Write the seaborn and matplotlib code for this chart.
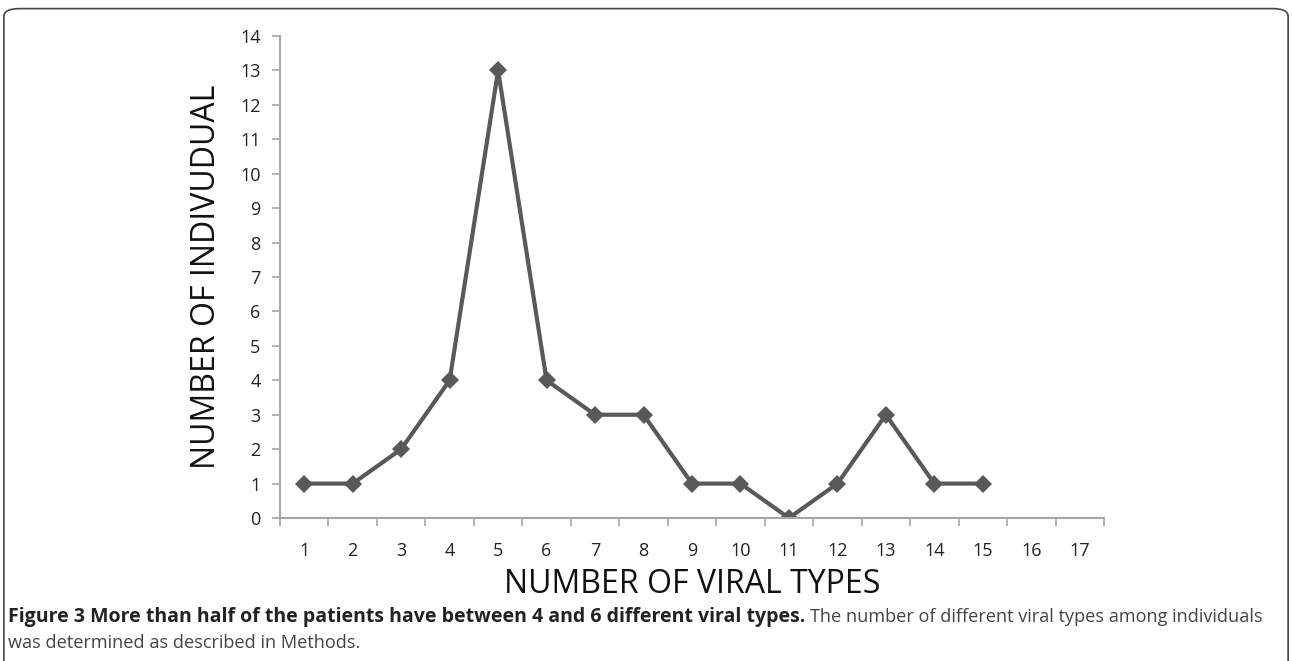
import numpy as np
import pandas as pd
import matplotlib
matplotlib.use('Agg')
import matplotlib.pyplot as plt
import seaborn as sns
from matplotlib.patches import FancyBboxPatch

# data
viral_types = [1, 2, 3, 4, 5, 6, 7, 8, 9, 10, 11, 12, 13, 14, 15]
individuals = [1, 1, 2, 4, 13, 4, 3, 3, 1, 1, 0, 1, 3, 1, 1]
x_categories = list(range(1, 18))
y_ticks = list(range(0, 15))

sns.set_style("ticks")
plt.rcParams['font.family'] = ['Open Sans', 'DejaVu Sans']

df = pd.DataFrame({'types': viral_types, 'n': individuals})

fig = plt.figure(figsize=(12.92, 6.61), dpi=100)
ax = fig.add_axes([0.2167, 0.2163, 0.6378, 0.7292])

sns.lineplot(data=df, x='types', y='n', ax=ax, color='#595959', linewidth=3,
             marker='D', markersize=9, markeredgewidth=0)

ax.set_xlim(0.5, len(x_categories) + 0.5)
ax.set_ylim(0, 14)
# category axis: ticks between categories, labels on categories
ax.set_xticks(np.arange(0.5, len(x_categories) + 1, 1))
ax.set_xticklabels([])
ax.set_xticks(x_categories, minor=True)
ax.set_xticklabels([str(c) for c in x_categories], minor=True)
ax.tick_params(axis='x', which='major', length=6, width=1.2, color='#a6a6a6', direction='out')
ax.tick_params(axis='x', which='minor', length=0, labelsize=13, pad=17, labelcolor='#222222')
ax.set_yticks(y_ticks)
ax.tick_params(axis='y', length=6, width=1.2, color='#a6a6a6', labelsize=13, pad=8, labelcolor='#222222')

for s in ['top', 'right']:
    ax.spines[s].set_visible(False)
for s in ['left', 'bottom']:
    ax.spines[s].set_color('#a6a6a6')
    ax.spines[s].set_linewidth(1.5)

ax.set_xlabel('NUMBER OF VIRAL TYPES', fontsize=23, labelpad=6, color='#111111')
ax.set_ylabel('NUMBER OF INDIVUDUAL', fontsize=23, labelpad=12, color='#111111')

# border box
box = FancyBboxPatch((0.003, -0.05), 0.994, 1.037, boxstyle='round,pad=0,rounding_size=0.012',
                     transform=fig.transFigure, fill=False, edgecolor='#444444', linewidth=1.2)
fig.patches.append(box)

# caption
t1 = fig.text(0.006, 0.059, 'Figure 3 More than half of the patients have between 4 and 6 different viral types.',
              fontsize=14, fontweight='bold', color='#222222', va='baseline')
fig.canvas.draw()
bb = t1.get_window_extent(renderer=fig.canvas.get_renderer())
x1 = bb.x1 / fig.bbox.width + 0.004
fig.text(x1, 0.059, 'The number of different viral types among individuals',
         fontsize=13.1, color='#444444', va='baseline')
fig.text(0.006, 0.019, 'was determined as described in Methods.',
         fontsize=13.1, color='#444444', va='baseline')

fig.savefig('out.png', dpi=100)
